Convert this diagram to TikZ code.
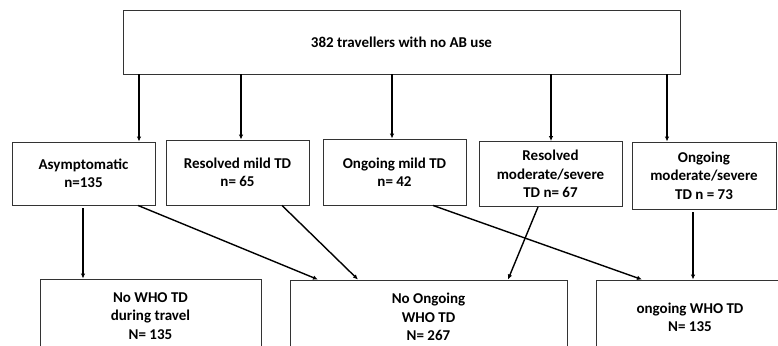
\documentclass[tikz,border=0pt]{standalone}
\usepackage{fontspec}
\setmainfont{Carlito}
\usetikzlibrary{arrows.meta}
\begin{document}
\begin{tikzpicture}[x=1pt,y=-1pt,
  box/.style={draw=black!80,line width=0.9pt,rectangle,inner sep=0pt,align=center,
    font=\fontsize{15}{18.5}\selectfont\bfseries},
  arr/.style={draw=black,line width=1.4pt,-{Latex[length=5pt,width=4.5pt]}}]
\clip (0,0) rectangle (778,345);
\fill[white] (0,0) rectangle (778,345);
\node[box,minimum width=557pt,minimum height=64pt] (top) at (401.5,42) {382 travellers with no AB use};
\node[box,minimum width=143pt,minimum height=63pt] (b1) at (83.5,173.5) {Asymptomatic\\n=135};
\node[box,minimum width=143pt,minimum height=65pt] (b2) at (237.5,172.5) {Resolved mild TD\\n= 65};
\node[box,minimum width=143pt,minimum height=66pt] (b3) at (394.5,172) {Ongoing mild TD\\n= 42};
\node[box,minimum width=143pt,minimum height=65pt] (b4) at (550.5,174) {Resolved\\moderate/severe\\TD n= 67};
\node[box,minimum width=144pt,minimum height=67pt] (b5) at (704,175.5) {Ongoing\\moderate/severe\\TD n = 73};
\node[box,minimum width=221pt,minimum height=74pt] (na) at (150.5,316) {No WHO TD\\during travel\\N= 135};
\node[box,minimum width=277pt,minimum height=74pt] (nb) at (428.5,317) {No Ongoing\\WHO TD\\N= 267};
\node[box,minimum width=188pt,minimum height=75pt] (nc) at (690,317.5) {ongoing WHO TD\\N= 135};
% top to second row
\draw[arr] (139,0 |- top.south) -- (139,0 |- b1.north);
\draw[arr] (241,0 |- top.south) -- (241,0 |- b2.north);
\draw[arr] (392,0 |- top.south) -- (392,0 |- b3.north);
\draw[arr] (551,0 |- top.south) -- (551,0 |- b4.north);
\draw[arr] (667,0 |- top.south) -- (667,0 |- b5.north);
% second row to bottom
\draw[arr] ([yshift=-3pt]83,0 |- b1.south) -- (83,0 |- na.north);
\draw[arr] (138,0 |- b1.south) -- (318,0 |- nb.north);
\draw[arr] (282,0 |- b2.south) -- (358,0 |- nb.north);
\draw[arr] (433,0 |- b3.south) -- (642,0 |- nc.north);
\draw[arr] (538,0 |- b4.south) -- (508,0 |- nb.north);
\draw[arr] ([yshift=-3pt]693,0 |- b5.south) -- (693,0 |- nc.north);
\end{tikzpicture}
\end{document}
